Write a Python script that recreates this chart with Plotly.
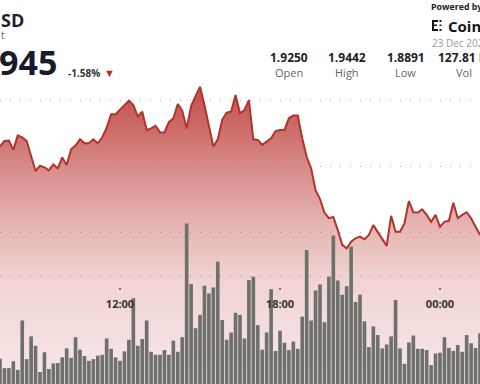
import pandas as pd
import plotly.graph_objects as go

# ---------------- data ----------------
start_time = "2025-12-22 07:30"
interval = "10min"

price = [1.9261, 1.9278, 1.9279, 1.9251, 1.9295, 1.9289, 1.9278, 1.9232, 1.9187, 1.9203,
         1.9198, 1.9189, 1.9207, 1.9195, 1.9228, 1.9205, 1.9253, 1.9264, 1.9283, 1.9271,
         1.9271, 1.9283, 1.9271, 1.9289, 1.9318, 1.9359, 1.9359, 1.9373, 1.9387, 1.9400,
         1.9387, 1.9352, 1.9367, 1.9311, 1.9316, 1.9324, 1.9304, 1.9304, 1.9335, 1.9347,
         1.9390, 1.9370, 1.9316, 1.9384, 1.9414, 1.9442, 1.9387, 1.9321, 1.9261, 1.9283,
         1.9342, 1.9364, 1.9367, 1.9417, 1.9362, 1.9372, 1.9402, 1.9283, 1.9281, 1.9266,
         1.9276, 1.9286, 1.9308, 1.9311, 1.9311, 1.9347, 1.9355, 1.9355, 1.9286, 1.9230,
         1.9195, 1.9129, 1.9102, 1.9061, 1.9044, 1.9048, 1.9008, 1.8963, 1.8953, 1.8973,
         1.8983, 1.8988, 1.8980, 1.8993, 1.9023, 1.9003, 1.8983, 1.8960, 1.9051, 1.9003,
         1.9003, 1.9028, 1.9096, 1.9062, 1.9061, 1.9071, 1.9054, 1.9033, 1.9054, 1.9018,
         1.9033, 1.9036, 1.9091, 1.9044, 1.9054, 1.9062, 1.9044, 1.9018, 1.8993]

volume_m = [0.59, 0.37, 0.37, 0.53, 0.33, 1.48, 0.58, 1.11, 0.89, 0.28,
            0.74, 0.35, 0.48, 0.49, 0.62, 0.83, 0.61, 1.09, 0.80, 0.65,
            0.54, 0.58, 0.66, 0.68, 1.06, 0.82, 0.62, 0.54, 0.76, 1.03,
            2.00, 0.89, 1.05, 1.48, 0.75, 0.68, 0.68, 0.79, 0.68, 1.01,
            0.75, 1.09, 3.74, 2.33, 1.30, 1.61, 2.29, 2.11, 2.25, 2.85,
            1.49, 1.03, 1.20, 1.66, 1.61, 1.06, 2.42, 2.50, 1.37, 0.80,
            1.20, 2.21, 0.77, 1.24, 0.96, 0.79, 0.99, 0.82, 1.57, 3.12,
            1.48, 2.18, 2.32, 1.44, 2.50, 3.46, 2.41, 2.08, 2.28, 3.20,
            1.91, 2.08, 1.46, 0.86, 1.34, 1.14, 0.83, 0.92, 1.11, 1.96,
            0.83, 0.47, 0.97, 1.13, 0.82, 0.82, 0.79, 0.44, 0.71, 0.73,
            1.09, 0.84, 0.77, 0.91, 0.75, 1.14, 0.95, 0.84, 1.18]

tick_times = ["2025-12-22 12:00", "2025-12-22 18:00", "2025-12-23 00:00"]
tick_labels = ["12:00", "18:00", "00:00"]
price_grid = [1.90, 1.92, 1.94]
volume_grid = [2.5]

header_pair = "SD"
header_sub = "t"
last_price = "945"
change_pct = "-1.58%"
stat_values = ["1.9250", "1.9442", "1.8891", "127.81 M"]
stat_names = ["Open", "High", "Low", "Vol"]
brand = "CoinDesk"
date_text = "23 Dec 2025"

times = pd.date_range(start_time, periods=len(price), freq=interval)

W, H = 480, 384
FONT = "Open Sans"

fig = go.Figure()

fig.add_trace(go.Scatter(
    x=times, y=price, mode="lines",
    line=dict(color="#b0332d", width=2),
    fill="tozeroy",
    fillgradient=dict(
        type="vertical", start=1.8542, stop=1.9445,
        colorscale=[
            [0.0, "rgba(185,50,45,0.11)"],
            [0.348, "rgba(185,50,45,0.21)"],
            [0.515, "rgba(185,50,45,0.35)"],
            [0.699, "rgba(185,50,45,0.53)"],
            [0.849, "rgba(185,50,45,0.71)"],
            [1.0, "rgba(185,50,45,0.86)"],
        ]),
    hoverinfo="skip", showlegend=False, yaxis="y"))

fig.add_trace(go.Bar(
    x=times, y=volume_m, marker=dict(color="#6d7169", line=dict(width=0)),
    hoverinfo="skip", showlegend=False, yaxis="y2"))

grid_style = dict(gridcolor="#b0b0b0", gridwidth=1, griddash="1px,9px")

fig.update_layout(
    width=W, height=H,
    margin=dict(l=0, r=0, t=0, b=0),
    paper_bgcolor="white", plot_bgcolor="white",
    bargap=0.18,
    font=dict(family=FONT),
    xaxis=dict(
        range=[times[0], times[-1]],
        anchor="free", position=(H - 286.7) / H,
        tickvals=tick_times, ticktext=tick_labels,
        ticks="outside", ticklen=2, tickwidth=2, tickcolor="#777",
        ticklabelstandoff=5,
        tickfont=dict(family=FONT, size=11, color="#333", weight="bold"),
        showgrid=False, showline=False, zeroline=False,
    ),
    yaxis=dict(
        range=[1.94 - 283.3 / 3300, 1.94 + 100.7 / 3300],
        tickvals=price_grid, showticklabels=False, zeroline=False,
        showline=False, **grid_style,
    ),
    yaxis2=dict(
        range=[0, 384 / 42.92], overlaying="y", anchor="x",
        tickvals=volume_grid, showticklabels=False, zeroline=False,
        showline=False, **grid_style,
    ),
)

def px(x):
    return x / W

def py(y):
    return 1 - y / H

ann = []
def txt(text, x, y, size, color, bold=False, xanchor="left"):
    ann.append(dict(text=text, x=px(x), y=py(y), xref="paper", yref="paper",
                    xanchor=xanchor, yanchor="middle", showarrow=False,
                    font=dict(family=FONT, size=size, color=color,
                              weight="bold" if bold else "normal")))

txt(header_pair, -1, 20, 18, "#1c2233", bold=True)
txt(header_sub, -1, 35.5, 10, "#666666")
txt(last_price, -3, 62.5, 34, "#161c2b", bold=True)
txt(change_pct, 66, 73, 10, "#333333", bold=True)
txt("▼", 102, 73, 11, "#c62a22")

txt("Powered by", 429, 7, 8.8, "#222222", bold=True)
txt(brand, 446, 25.5, 15, "#151515", bold=True)
txt(date_text, 430, 42.5, 10, "#9a9a9a")

stat_x = [289, 347, 405.5, 464]
for v, n, cx in zip(stat_values, stat_names, stat_x):
    txt(v, cx, 58, 12, "#222222", bold=True, xanchor="center")
    txt(n, cx, 73, 11, "#666666", xanchor="center")

fig.update_layout(annotations=ann)

# small brand mark
logo = [(432, 20, 434, 31), (432, 20, 438, 22), (432, 29, 438, 31), (432, 24.5, 437, 26),
        (439.5, 20, 441.5, 22), (439.5, 24.5, 441.5, 26), (439.5, 29, 441.5, 31)]
for x0, y0, x1, y1 in logo:
    fig.add_shape(type="rect", xref="paper", yref="paper",
                  x0=px(x0), x1=px(x1), y0=py(y0), y1=py(y1),
                  fillcolor="#151515", line=dict(width=0), layer="above")

fig.write_html("out.html", config={"displayModeBar": False},
               post_script="document.body.style.margin='0';document.body.style.overflow='hidden';")
